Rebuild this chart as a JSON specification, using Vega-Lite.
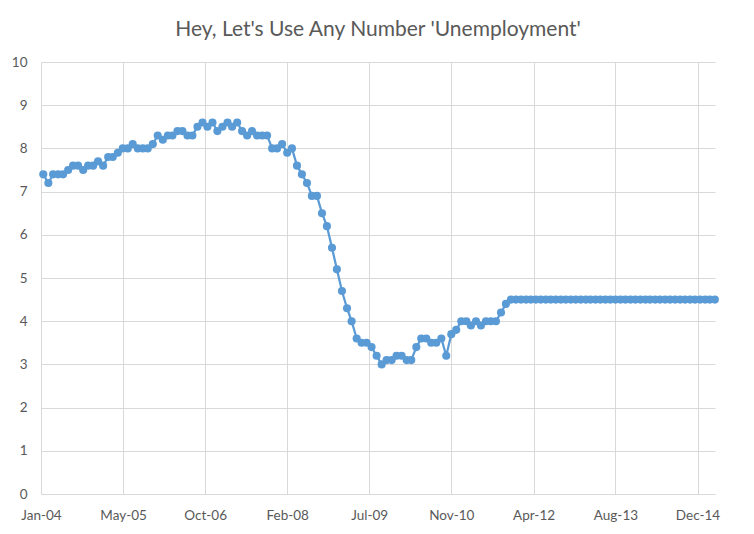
{
  "$schema": "https://vega.github.io/schema/vega-lite/v6.json",
  "width": 674,
  "height": 432,
  "autosize": {"type": "none"},
  "padding": {"left": 41, "top": 62, "right": 39, "bottom": 40},
  "background": "white",
  "title": {
    "text": "Hey, Let's Use Any Number 'Unemployment'",
    "font": "Lato",
    "fontSize": 21,
    "fontWeight": "normal",
    "color": "#595959",
    "anchor": "middle",
    "offset": 15
  },
  "config": {
    "view": {"stroke": null},
    "axis": {
      "labelFont": "Lato",
      "labelFontSize": 13.5,
      "labelColor": "#595959",
      "gridColor": "#d9d9d9",
      "gridWidth": 1,
      "domain": false,
      "ticks": false,
      "title": null
    }
  },
  "data": {
    "values": [
      {"month": "2004-01-15", "value": 7.4},
      {"month": "2004-02-15", "value": 7.2},
      {"month": "2004-03-15", "value": 7.4},
      {"month": "2004-04-15", "value": 7.4},
      {"month": "2004-05-15", "value": 7.4},
      {"month": "2004-06-15", "value": 7.5},
      {"month": "2004-07-15", "value": 7.6},
      {"month": "2004-08-15", "value": 7.6},
      {"month": "2004-09-15", "value": 7.5},
      {"month": "2004-10-15", "value": 7.6},
      {"month": "2004-11-15", "value": 7.6},
      {"month": "2004-12-15", "value": 7.7},
      {"month": "2005-01-15", "value": 7.6},
      {"month": "2005-02-15", "value": 7.8},
      {"month": "2005-03-15", "value": 7.8},
      {"month": "2005-04-15", "value": 7.9},
      {"month": "2005-05-15", "value": 8.0},
      {"month": "2005-06-15", "value": 8.0},
      {"month": "2005-07-15", "value": 8.1},
      {"month": "2005-08-15", "value": 8.0},
      {"month": "2005-09-15", "value": 8.0},
      {"month": "2005-10-15", "value": 8.0},
      {"month": "2005-11-15", "value": 8.1},
      {"month": "2005-12-15", "value": 8.3},
      {"month": "2006-01-15", "value": 8.2},
      {"month": "2006-02-15", "value": 8.3},
      {"month": "2006-03-15", "value": 8.3},
      {"month": "2006-04-15", "value": 8.4},
      {"month": "2006-05-15", "value": 8.4},
      {"month": "2006-06-15", "value": 8.3},
      {"month": "2006-07-15", "value": 8.3},
      {"month": "2006-08-15", "value": 8.5},
      {"month": "2006-09-15", "value": 8.6},
      {"month": "2006-10-15", "value": 8.5},
      {"month": "2006-11-15", "value": 8.6},
      {"month": "2006-12-15", "value": 8.4},
      {"month": "2007-01-15", "value": 8.5},
      {"month": "2007-02-15", "value": 8.6},
      {"month": "2007-03-15", "value": 8.5},
      {"month": "2007-04-15", "value": 8.6},
      {"month": "2007-05-15", "value": 8.4},
      {"month": "2007-06-15", "value": 8.3},
      {"month": "2007-07-15", "value": 8.4},
      {"month": "2007-08-15", "value": 8.3},
      {"month": "2007-09-15", "value": 8.3},
      {"month": "2007-10-15", "value": 8.3},
      {"month": "2007-11-15", "value": 8.0},
      {"month": "2007-12-15", "value": 8.0},
      {"month": "2008-01-15", "value": 8.1},
      {"month": "2008-02-15", "value": 7.9},
      {"month": "2008-03-15", "value": 8.0},
      {"month": "2008-04-15", "value": 7.6},
      {"month": "2008-05-15", "value": 7.4},
      {"month": "2008-06-15", "value": 7.2},
      {"month": "2008-07-15", "value": 6.9},
      {"month": "2008-08-15", "value": 6.9},
      {"month": "2008-09-15", "value": 6.5},
      {"month": "2008-10-15", "value": 6.2},
      {"month": "2008-11-15", "value": 5.7},
      {"month": "2008-12-15", "value": 5.2},
      {"month": "2009-01-15", "value": 4.7},
      {"month": "2009-02-15", "value": 4.3},
      {"month": "2009-03-15", "value": 4.0},
      {"month": "2009-04-15", "value": 3.6},
      {"month": "2009-05-15", "value": 3.5},
      {"month": "2009-06-15", "value": 3.5},
      {"month": "2009-07-15", "value": 3.4},
      {"month": "2009-08-15", "value": 3.2},
      {"month": "2009-09-15", "value": 3.0},
      {"month": "2009-10-15", "value": 3.1},
      {"month": "2009-11-15", "value": 3.1},
      {"month": "2009-12-15", "value": 3.2},
      {"month": "2010-01-15", "value": 3.2},
      {"month": "2010-02-15", "value": 3.1},
      {"month": "2010-03-15", "value": 3.1},
      {"month": "2010-04-15", "value": 3.4},
      {"month": "2010-05-15", "value": 3.6},
      {"month": "2010-06-15", "value": 3.6},
      {"month": "2010-07-15", "value": 3.5},
      {"month": "2010-08-15", "value": 3.5},
      {"month": "2010-09-15", "value": 3.6},
      {"month": "2010-10-15", "value": 3.2},
      {"month": "2010-11-15", "value": 3.7},
      {"month": "2010-12-15", "value": 3.8},
      {"month": "2011-01-15", "value": 4.0},
      {"month": "2011-02-15", "value": 4.0},
      {"month": "2011-03-15", "value": 3.9},
      {"month": "2011-04-15", "value": 4.0},
      {"month": "2011-05-15", "value": 3.9},
      {"month": "2011-06-15", "value": 4.0},
      {"month": "2011-07-15", "value": 4.0},
      {"month": "2011-08-15", "value": 4.0},
      {"month": "2011-09-15", "value": 4.2},
      {"month": "2011-10-15", "value": 4.4},
      {"month": "2011-11-15", "value": 4.5},
      {"month": "2011-12-15", "value": 4.5},
      {"month": "2012-01-15", "value": 4.5},
      {"month": "2012-02-15", "value": 4.5},
      {"month": "2012-03-15", "value": 4.5},
      {"month": "2012-04-15", "value": 4.5},
      {"month": "2012-05-15", "value": 4.5},
      {"month": "2012-06-15", "value": 4.5},
      {"month": "2012-07-15", "value": 4.5},
      {"month": "2012-08-15", "value": 4.5},
      {"month": "2012-09-15", "value": 4.5},
      {"month": "2012-10-15", "value": 4.5},
      {"month": "2012-11-15", "value": 4.5},
      {"month": "2012-12-15", "value": 4.5},
      {"month": "2013-01-15", "value": 4.5},
      {"month": "2013-02-15", "value": 4.5},
      {"month": "2013-03-15", "value": 4.5},
      {"month": "2013-04-15", "value": 4.5},
      {"month": "2013-05-15", "value": 4.5},
      {"month": "2013-06-15", "value": 4.5},
      {"month": "2013-07-15", "value": 4.5},
      {"month": "2013-08-15", "value": 4.5},
      {"month": "2013-09-15", "value": 4.5},
      {"month": "2013-10-15", "value": 4.5},
      {"month": "2013-11-15", "value": 4.5},
      {"month": "2013-12-15", "value": 4.5},
      {"month": "2014-01-15", "value": 4.5},
      {"month": "2014-02-15", "value": 4.5},
      {"month": "2014-03-15", "value": 4.5},
      {"month": "2014-04-15", "value": 4.5},
      {"month": "2014-05-15", "value": 4.5},
      {"month": "2014-06-15", "value": 4.5},
      {"month": "2014-07-15", "value": 4.5},
      {"month": "2014-08-15", "value": 4.5},
      {"month": "2014-09-15", "value": 4.5},
      {"month": "2014-10-15", "value": 4.5},
      {"month": "2014-11-15", "value": 4.5},
      {"month": "2014-12-15", "value": 4.5},
      {"month": "2015-01-15", "value": 4.5},
      {"month": "2015-02-15", "value": 4.5},
      {"month": "2015-03-15", "value": 4.5},
      {"month": "2015-04-15", "value": 4.5}
    ]
  },
  "mark": {
    "type": "line",
    "color": "#5b9bd5",
    "strokeWidth": 2.25,
    "point": {"filled": true, "size": 66, "color": "#5b9bd5", "opacity": 1}
  },
  "encoding": {
    "x": {
      "field": "month",
      "type": "temporal",
      "scale": {"domain": ["2004-01-01", "2015-04-16"], "nice": false},
      "axis": {
        "values": ["2004-01-01", "2005-05-17", "2006-10-01", "2008-02-15", "2009-07-01", "2010-11-15", "2012-04-01", "2013-08-15", "2014-12-30"],
        "format": "%b-%y",
        "labelPadding": 14,
        "domain": true,
        "domainColor": "#d9d9d9",
        "labelFlush": false,
        "labelOverlap": false
      }
    },
    "y": {
      "field": "value",
      "type": "quantitative",
      "scale": {"domain": [0, 10], "nice": false},
      "axis": {"values": [0, 1, 2, 3, 4, 5, 6, 7, 8, 9, 10], "labelPadding": 14, "labelBaseline": "middle"}
    }
  }
}
